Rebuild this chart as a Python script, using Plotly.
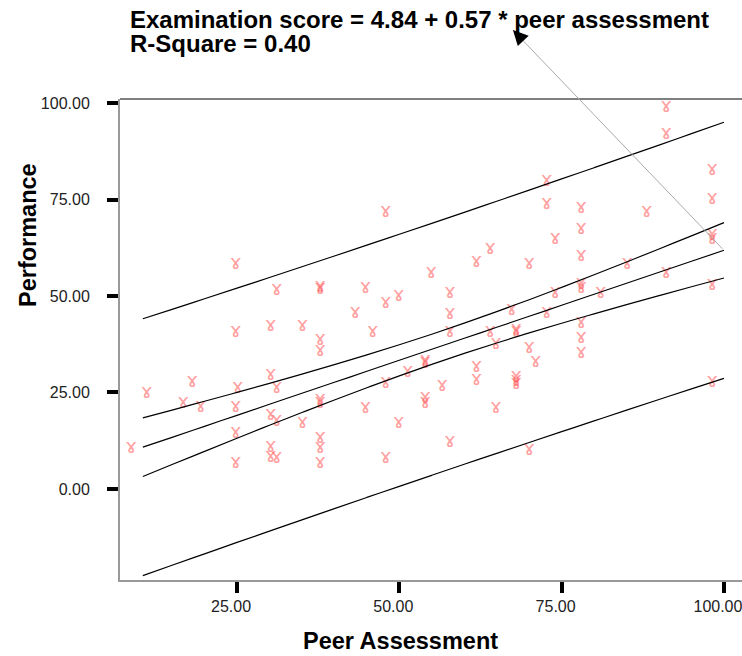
import plotly.graph_objects as go

# ---- data ----
peer = [8.7, 11.1, 16.7, 18.1, 19.4,
        24.8, 24.8, 25.1, 24.8, 24.8, 24.8,
        30.2, 30.2, 30.2, 30.2, 30.2,
        31.1, 31.1, 31.1, 31.1,
        35.1, 35.1,
        37.8, 37.8, 37.8, 37.8, 37.8, 37.8, 37.8, 37.8, 37.8,
        43.2, 44.8, 44.8, 45.9,
        47.9, 47.9, 47.9, 47.9,
        49.9, 49.9, 51.3,
        54.0, 54.0, 54.0, 54.0, 54.9, 56.6,
        57.8, 57.8, 57.8, 57.8,
        61.9, 61.9, 61.9,
        64.0, 64.0, 64.9, 64.9, 67.3,
        68.0, 68.0, 68.0, 68.0, 68.0,
        70.0, 70.0, 70.0, 71.0,
        72.7, 72.7, 72.7, 74.0, 74.0,
        78.0, 78.0, 78.0, 78.0, 78.0, 78.0, 78.0, 78.0,
        81.0, 85.1, 88.1,
        91.1, 91.1, 91.1,
        98.2, 98.2, 98.2, 98.2, 98.2, 98.2]

performance = [10.5, 24.8, 22.4, 27.6, 21.3,
               58.3, 40.8, 26.1, 21.3, 14.4, 6.7,
               42.1, 29.5, 19.2, 11.0, 8.4,
               51.6, 26.1, 17.7, 8.1,
               42.1, 17.0,
               52.4, 51.8, 38.6, 35.8, 23.1, 22.2, 13.1, 10.5, 6.7,
               45.5, 52.2, 20.9, 40.8,
               71.8, 48.1, 27.4, 8.0,
               50.0, 17.0, 30.4,
               33.2, 32.6, 23.5, 22.4, 55.9, 26.7,
               50.7, 45.3, 40.8, 12.1,
               58.9, 31.7, 28.2,
               62.1, 40.8, 37.6, 20.9, 46.4,
               41.3, 40.7, 29.1, 28.1, 27.2,
               58.3, 36.5, 10.1, 32.8,
               79.8, 73.8, 45.5, 64.8, 50.7,
               72.9, 67.3, 60.4, 53.1, 52.1, 42.9, 39.0, 35.2,
               50.7, 58.3, 71.8,
               98.9, 91.9, 55.9,
               82.6, 75.1, 65.7, 64.7, 52.9, 27.8]

band_x = [10.5, 15, 20, 25, 30, 35, 40, 45, 50, 55, 60, 65, 70, 75, 80, 85, 90, 95, 100]
fit_line = [10.83, 13.39, 16.24, 19.09, 21.94, 24.79, 27.64, 30.49, 33.34, 36.19,
            39.04, 41.89, 44.74, 47.59, 50.44, 53.29, 56.14, 58.99, 61.84]
mean_ci_upper = [18.43, 20.45, 22.73, 25.03, 27.37, 29.76, 32.21, 34.74, 37.36, 40.10,
                 42.96, 45.95, 49.04, 52.23, 55.50, 58.82, 62.19, 65.59, 69.02]
mean_ci_lower = [3.23, 6.33, 9.75, 13.15, 16.51, 19.82, 23.07, 26.24, 29.32, 32.28,
                 35.12, 37.83, 40.44, 42.95, 45.38, 47.76, 50.09, 52.39, 54.66]
pred_upper = [44.11, 46.55, 49.29, 52.03, 54.80, 57.57, 60.36, 63.17, 65.99, 68.83,
              71.68, 74.55, 77.43, 80.33, 83.24, 86.16, 89.10, 92.06, 95.03]
pred_lower = [-22.45, -19.77, -16.81, -13.85, -10.92, -7.99, -5.08, -2.19, 0.69, 3.55,
              6.40, 9.23, 12.05, 14.85, 17.64, 20.42, 23.18, 25.92, 28.65]

x_ticks = [25, 50, 75, 100]
y_ticks = [0, 25, 50, 75, 100]
x_range = [6.98, 102.78]
y_range = [-23.58, 101.04]

equation_text = "Examination score = 4.84 + 0.57 * peer assessment"
rsq_text = "R-Square = 0.40"
x_title = "Peer Assessment"
y_title = "Performance"
point_glyph = "\u0264"  # rams-horn glyph, stands in for the victory-hand marker

FONT = "Liberation Sans, Arial, sans-serif"

fig = go.Figure()

fig.add_trace(go.Scatter(
    x=peer, y=performance, mode="text", text=[point_glyph] * len(peer),
    textposition="middle center",
    textfont=dict(family="DejaVu Sans", size=20, color="rgba(255,80,80,0.55)"),
    showlegend=False, hoverinfo="x+y", cliponaxis=False))

for ys in [pred_upper, mean_ci_upper, fit_line, mean_ci_lower, pred_lower]:
    fig.add_trace(go.Scatter(
        x=band_x, y=ys, mode="lines", line_shape="spline",
        line=dict(color="black", width=1.2),
        showlegend=False, hoverinfo="skip"))

layout_w, layout_h = 742, 656
m = dict(l=120, r=0, t=99, b=76)
plot_w = layout_w - m["l"] - m["r"]
plot_h = layout_h - m["t"] - m["b"]


def px_to_paper(xp, yp):
    return (xp - m["l"]) / plot_w, (layout_h - m["b"] - yp) / plot_h


# arrow from regression line end to the equation
tail_x = band_x[-1]
tail_y = fit_line[-1]
head_x = 67.5
head_y = 118.9
fig.add_annotation(x=head_x, y=head_y, xref="x", yref="y",
                   ax=tail_x, ay=tail_y, axref="x", ayref="y",
                   showarrow=True, arrowhead=0, arrowwidth=1,
                   arrowcolor="#aaaaaa", text="")
hx = (head_x - x_range[0]) / (x_range[1] - x_range[0])
hy = (head_y - y_range[0]) / (y_range[1] - y_range[0])
fig.add_annotation(x=hx, y=hy, xref="paper", yref="paper",
                   ax=9, ay=9.5, showarrow=True, arrowhead=2,
                   arrowsize=3.0, arrowwidth=1, arrowcolor="black",
                   standoff=0, text="")

ex, ey = px_to_paper(128, 20)
fig.add_annotation(x=ex, y=ey, xref="paper", yref="paper", text=f"<b>{equation_text}</b>",
                   showarrow=False, xanchor="left", yanchor="middle",
                   font=dict(family=FONT, size=24, color="black"))
rx, ry = px_to_paper(128, 43)
fig.add_annotation(x=rx, y=ry, xref="paper", yref="paper", text=f"<b>{rsq_text}</b>",
                   showarrow=False, xanchor="left", yanchor="middle",
                   font=dict(family=FONT, size=24, color="black"))

tx, ty = px_to_paper(400, 641)
fig.add_annotation(x=tx, y=ty, xref="paper", yref="paper", text=f"<b>{x_title}</b>",
                   showarrow=False, xanchor="center", yanchor="middle",
                   font=dict(family=FONT, size=23.5, color="black"))
vx, vy = px_to_paper(28, 235)
fig.add_annotation(x=vx, y=vy, xref="paper", yref="paper", text=f"<b>{y_title}</b>",
                   showarrow=False, xanchor="center", yanchor="middle", textangle=-90,
                   font=dict(family=FONT, size=23.5, color="black"))

# top frame line
fig.add_shape(type="line", xref="paper", yref="paper", x0=0, x1=1, y0=1, y1=1,
              line=dict(color="#555555", width=1.5))

fig.update_layout(
    width=layout_w, height=layout_h, margin=m,
    paper_bgcolor="white", plot_bgcolor="white",
    font=dict(family=FONT, color="#222222"),
    xaxis=dict(range=x_range, tickvals=x_ticks, tickformat=".2f",
               showgrid=False, zeroline=False, showline=True,
               linecolor="#999999", linewidth=1.5,
               ticks="outside", ticklen=11, tickwidth=4, tickcolor="black",
               ticklabelshift=-6, ticklabeloverflow="allow",
               tickfont=dict(family=FONT, size=16, color="#222222")),
    yaxis=dict(range=y_range, tickvals=y_ticks, tickformat=".2f",
               showgrid=False, zeroline=False, showline=True,
               linecolor="#999999", linewidth=2,
               ticks="outside", ticklen=11, tickwidth=4, tickcolor="black",
               ticklabelstandoff=14,
               tickfont=dict(family=FONT, size=16, color="#222222")),
)

fig.write_html("out.html")
